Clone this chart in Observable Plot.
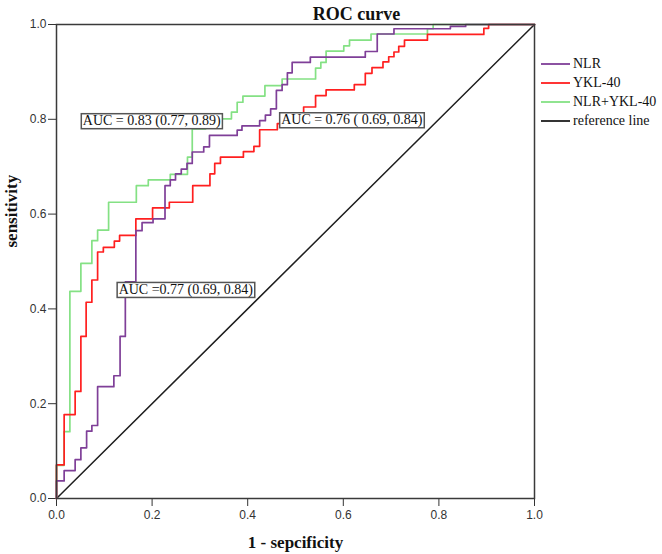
<!DOCTYPE html>
<html>
<head>
<meta charset="utf-8">
<script src="https://cdn.jsdelivr.net/npm/d3@7"></script>
<script src="https://cdn.jsdelivr.net/npm/@observablehq/plot@0.6"></script>
<style>
  body { margin: 0; background: #fff; }
  #wrap { position: relative; width: 662px; height: 554px; }
  #legend { position: absolute; left: 541px; top: 54px; font: 14px "Liberation Serif", serif; color: #111; }
  #legend .row { display: flex; align-items: center; height: 19px; }
  #legend svg { margin-right: 3px; }
</style>
</head>
<body>
<div id="wrap"><div id="legend"></div></div>
<script>
// ROC curves: false positive rate (1 - specificity) and sensitivity at each threshold step
const seriesNames = ["NLR", "YKL-40", "NLR+YKL-40"];
const seriesColors = ["#7f3f98", "#ff1f1f", "#84e184"];

const nlrFpr = [0, 0, 0.016, 0.039, 0.051, 0.063, 0.074, 0.086, 0.120, 0.133, 0.144, 0.166, 0.179, 0.202, 0.227, 0.238, 0.249, 0.261, 0.273, 0.284, 0.308, 0.320, 0.378, 0.388, 0.425, 0.437, 0.448, 0.460, 0.472, 0.483, 0.493, 0.531, 0.646, 0.671, 0.706, 0.824, 0.856, 1];
const nlrTpr = [0, 0.037, 0.059, 0.082, 0.107, 0.142, 0.154, 0.236, 0.259, 0.342, 0.457, 0.565, 0.582, 0.590, 0.660, 0.672, 0.685, 0.695, 0.707, 0.731, 0.742, 0.766, 0.777, 0.786, 0.797, 0.809, 0.822, 0.861, 0.873, 0.898, 0.920, 0.931, 0.943, 0.980, 0.991, 0.996, 1, 1];

const yklFpr = [0, 0, 0.016, 0.039, 0.051, 0.062, 0.074, 0.086, 0.098, 0.121, 0.132, 0.166, 0.201, 0.236, 0.285, 0.321, 0.331, 0.343, 0.391, 0.413, 0.425, 0.462, 0.490, 0.517, 0.542, 0.564, 0.623, 0.646, 0.660, 0.683, 0.695, 0.706, 0.716, 0.728, 0.776, 0.894, 0.904, 1];
const yklTpr = [0, 0.071, 0.177, 0.226, 0.342, 0.414, 0.461, 0.520, 0.530, 0.543, 0.555, 0.590, 0.613, 0.625, 0.660, 0.685, 0.707, 0.720, 0.732, 0.743, 0.778, 0.791, 0.804, 0.826, 0.850, 0.862, 0.873, 0.897, 0.909, 0.921, 0.932, 0.942, 0.954, 0.967, 0.979, 0.992, 1, 1];

const comboFpr = [0, 0, 0.016, 0.028, 0.051, 0.074, 0.086, 0.109, 0.167, 0.192, 0.238, 0.274, 0.284, 0.312, 0.331, 0.366, 0.378, 0.390, 0.436, 0.472, 0.542, 0.553, 0.564, 0.601, 0.613, 0.658, 0.776, 0.788, 1];
const comboTpr = [0, 0.070, 0.141, 0.437, 0.496, 0.544, 0.566, 0.625, 0.660, 0.672, 0.684, 0.720, 0.780, 0.791, 0.801, 0.815, 0.836, 0.849, 0.871, 0.885, 0.908, 0.920, 0.944, 0.955, 0.967, 0.980, 0.991, 1, 1];

const referenceFpr = [0, 1];
const referenceTpr = [0, 1];

// AUC (95% CI) labels, in the order NLR, YKL-40, NLR+YKL-40
const aucTexts = ["AUC =0.77 (0.69, 0.84)", "AUC = 0.76 ( 0.69, 0.84)", "AUC = 0.83 (0.77, 0.89)"];

const axisTicks = [0, 0.2, 0.4, 0.6, 0.8, 1.0];

const fprs = [nlrFpr, yklFpr, comboFpr];
const tprs = [nlrTpr, yklTpr, comboTpr];

// drawing order: combined model underneath, NLR on top
const drawOrder = [2, 1, 0];
const rows = drawOrder.flatMap(i => fprs[i].map((f, j) => ({series: seriesNames[i], fpr: f, tpr: tprs[i][j]})));
const refRows = referenceFpr.map((f, j) => ({fpr: f, tpr: referenceTpr[j]}));

// label anchors (left edge, vertical centre) in chart units
const labelAnchors = [
  {fpr: 0.130, tpr: 0.441},
  {fpr: 0.470, tpr: 0.799},
  {fpr: 0.055, tpr: 0.797}
];
const labelRows = aucTexts.map((t, i) => ({text: t, fpr: labelAnchors[i].fpr, tpr: labelAnchors[i].tpr}));

const serif = "Liberation Serif, Times New Roman, serif";

const chart = Plot.plot({
  width: 662,
  height: 554,
  marginLeft: 56,
  marginRight: 128,
  marginTop: 24,
  marginBottom: 56,
  style: {fontFamily: "Liberation Sans, Arial, sans-serif", fontSize: "12px", color: "#333", background: "#fff"},
  x: {domain: [0, 1], ticks: axisTicks, tickFormat: ".1f", tickSize: 8, tickPadding: 4, label: null},
  y: {domain: [0, 1], ticks: axisTicks, tickFormat: ".1f", tickSize: 8, tickPadding: 2, label: null},
  color: {domain: seriesNames, range: seriesColors},
  marks: [
    Plot.line(refRows, {x: "fpr", y: "tpr", stroke: "#1e1e1e", strokeWidth: 1.5}),
    Plot.line(rows, {x: "fpr", y: "tpr", z: "series", stroke: "series", curve: "step-after", strokeWidth: 1.7}),
    Plot.frame({stroke: "#3a3a3a", strokeWidth: 1.5}),
    Plot.text(labelRows, {x: "fpr", y: "tpr", text: "text", textAnchor: "start", lineAnchor: "middle",
      fontFamily: serif, fontSize: 14, fill: "#111"}),
    Plot.text(["ROC curve"], {frameAnchor: "top", lineAnchor: "bottom", dx: 61, dy: -5,
      fontFamily: serif, fontWeight: "bold", fontSize: 18, fill: "#111"}),
    Plot.text(["1 - sepcificity"], {frameAnchor: "bottom", lineAnchor: "middle", dy: 44,
      fontFamily: serif, fontWeight: "bold", fontSize: 17, fill: "#111"}),
    Plot.text(["sensitivity"], {frameAnchor: "left", lineAnchor: "middle", rotate: -90, dx: -45, dy: -14,
      fontFamily: serif, fontWeight: "bold", fontSize: 17, fill: "#111"})
  ]
});

const wrap = document.getElementById("wrap");
wrap.insertBefore(chart, wrap.firstChild);
chart.style.position = "absolute";
chart.style.left = "0";
chart.style.top = "0";

// white boxes with a grey border behind each AUC label
const ns = "http://www.w3.org/2000/svg";
Array.from(chart.querySelectorAll("text"))
  .filter(t => aucTexts.includes(t.textContent))
  .forEach(t => {
    const b = t.getBBox();
    const r = document.createElementNS(ns, "rect");
    r.setAttribute("x", b.x - 1.5);
    r.setAttribute("y", b.y + 0.5);
    r.setAttribute("width", b.width + 3);
    r.setAttribute("height", b.height - 1);
    r.setAttribute("fill", "#fff");
    r.setAttribute("stroke", "#555");
    r.setAttribute("stroke-width", 1.5);
    const tr = t.getAttribute("transform");
    if (tr) r.setAttribute("transform", tr);
    t.parentNode.insertBefore(r, t);
  });

// legend
const legend = document.getElementById("legend");
const legendNames = [...seriesNames, "reference line"];
const legendColors = [...seriesColors, "#1e1e1e"];
legendNames.forEach((name, i) => {
  const row = document.createElement("div");
  row.className = "row";
  row.innerHTML = `<svg width="29" height="4"><line x1="0" x2="29" y1="2" y2="2" stroke="${legendColors[i]}" stroke-width="1.8"/></svg><span>${name}</span>`;
  legend.appendChild(row);
});
</script>
</body>
</html>
